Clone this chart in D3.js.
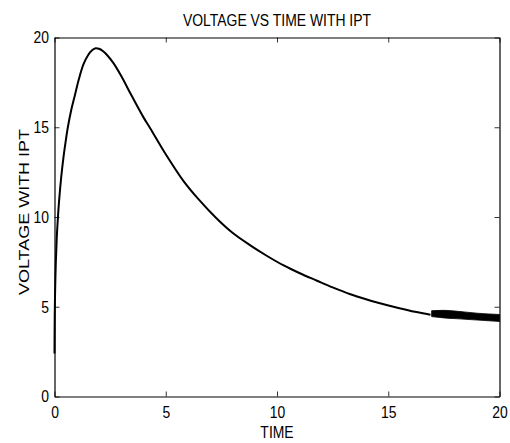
<!DOCTYPE html>
<html>
<head>
<meta charset="utf-8">
<script src="https://cdn.jsdelivr.net/npm/d3@7/dist/d3.min.js"></script>
<style>
  html, body { margin: 0; padding: 0; background: #fff; }
  svg text { font-family: "Liberation Sans", Arial, sans-serif; fill: #000; }
</style>
</head>
<body>
<svg id="chart" width="510" height="443"></svg>
<script>
// ---- data ----
const timeValues = [0, 0.01, 0.03, 0.06, 0.1, 0.15, 0.2, 0.3, 0.4, 0.5, 0.6, 0.75, 0.92, 1.1, 1.3, 1.5, 1.7, 1.85, 2.0, 2.2, 2.4, 2.65, 3.0, 3.47, 4.0, 4.3, 5.0, 5.8, 6.5, 7.3, 8.0, 8.8, 9.5, 10.3, 11.0, 11.8, 12.5, 13.3, 14.0, 14.5, 15.5, 16.2, 16.9];
const voltageValues = [2.4, 4.5, 6.0, 7.5, 8.8, 9.9, 10.8, 12.2, 13.3, 14.2, 15.0, 15.95, 16.8, 17.7, 18.5, 19.0, 19.3, 19.4, 19.37, 19.22, 18.97, 18.57, 17.85, 16.75, 15.55, 14.95, 13.5, 12.0, 10.95, 9.9, 9.12, 8.42, 7.87, 7.3, 6.88, 6.45, 6.08, 5.7, 5.42, 5.24, 4.92, 4.72, 4.56];
// oscillating tail drawn as an envelope band
const bandTime  = [16.95, 17.5, 18.0, 18.5, 19.0, 19.5, 20.0];
const bandUpper = [4.78, 4.8, 4.76, 4.7, 4.64, 4.6, 4.57];
const bandLower = [4.45, 4.38, 4.34, 4.3, 4.26, 4.22, 4.18];
const xTicks = [0, 5, 10, 15, 20];
const yTicks = [0, 5, 10, 15, 20];
const titleText = "VOLTAGE VS TIME WITH IPT";
const xLabelText = "TIME";
const yLabelText = "VOLTAGE WITH IPT";

// ---- layout ----
const plotLeft = 54.5, plotRight = 499.5, plotTop = 37.5, plotBottom = 396.5;
const svg = d3.select("#chart");
const x = d3.scaleLinear().domain([0, 20]).range([plotLeft, plotRight]);
const y = d3.scaleLinear().domain([0, 20]).range([plotBottom, plotTop]);
const fontSize = 17;
const narrow = 0.82; // horizontal condensing (narrow Helvetica look)

// curve
const line = d3.line().x((d, i) => x(timeValues[i])).y(d => y(d)).curve(d3.curveCatmullRom.alpha(0.5));
svg.append("path")
  .attr("d", line(voltageValues))
  .attr("fill", "none")
  .attr("stroke", "#000")
  .attr("stroke-width", 2)
  .attr("stroke-linejoin", "round");

// band
const area = d3.area()
  .x((d, i) => x(bandTime[i]))
  .y0((d, i) => y(bandLower[i]))
  .y1((d, i) => y(bandUpper[i]))
  .curve(d3.curveMonotoneX);
svg.append("path")
  .attr("d", area(bandTime))
  .attr("fill", "#000")
  .attr("stroke", "#000")
  .attr("stroke-width", 0.8);

// axes box with inward ticks (MATLAB style)
const tickLen = 5;
const axBottom = d3.axisBottom(x).tickValues(xTicks).tickSizeInner(-tickLen).tickSizeOuter(0).tickPadding(9);
const axTop = d3.axisTop(x).tickValues(xTicks).tickSizeInner(-tickLen).tickSizeOuter(0).tickFormat("");
const axLeft = d3.axisLeft(y).tickValues(yTicks).tickSizeInner(-tickLen).tickSizeOuter(0).tickPadding(9);
const axRight = d3.axisRight(y).tickValues(yTicks).tickSizeInner(-tickLen).tickSizeOuter(0).tickFormat("");

function style(g) {
  g.select(".domain").attr("stroke", "#000").attr("stroke-width", 1.2);
  g.selectAll(".tick line").attr("stroke", "#000").attr("stroke-width", 0.8);
  g.selectAll(".tick text").attr("font-size", fontSize)
    .style("font-family", '"Liberation Sans", Arial, sans-serif')
    .attr("transform", `scale(${narrow},1)`);
}
svg.append("g").attr("transform", `translate(0,${plotBottom})`).call(axBottom).call(style);
svg.append("g").attr("transform", `translate(0,${plotTop})`).call(axTop).call(style);
svg.append("g").attr("transform", `translate(${plotLeft},0)`).call(axLeft).call(style)
  .selectAll(".tick text").attr("x", -5.5 / narrow);
svg.append("g").attr("transform", `translate(${plotRight},0)`).call(axRight).call(style);

// titles
svg.append("text")
  .attr("transform", `translate(${(plotLeft + plotRight) / 2},26) scale(${narrow},1)`)
  .attr("text-anchor", "middle").attr("font-size", fontSize).text(titleText);
svg.append("text")
  .attr("transform", `translate(${(plotLeft + plotRight) / 2},438) scale(${narrow},1)`)
  .attr("text-anchor", "middle").attr("font-size", fontSize).text(xLabelText);
svg.append("text")
  .attr("transform", `translate(29,212) rotate(-90) scale(1.2,1)`)
  .attr("text-anchor", "middle").attr("font-size", 15).text(yLabelText);
</script>
</body>
</html>
